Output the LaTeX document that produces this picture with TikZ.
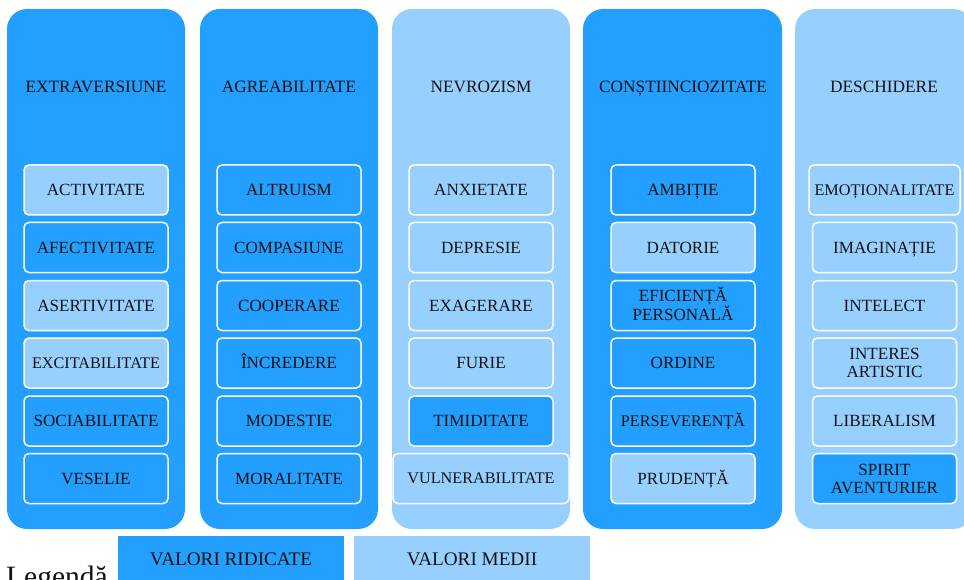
\documentclass[tikz,border=0pt]{standalone}
\usepackage{fontspec}
\setmainfont{Liberation Serif}
\definecolor{hiblue}{RGB}{35,159,255}
\definecolor{loblue}{RGB}{151,208,255}
\definecolor{txt}{RGB}{18,18,18}
\tikzset{
  colbox/.style={rounded corners=20pt, inner sep=0pt, outer sep=0pt, minimum width=178pt, minimum height=520pt, anchor=north},
  colhi/.style={colbox, fill=hiblue},
  collo/.style={colbox, fill=loblue},
  coltitle/.style={font=\fontsize{17.3}{18}\selectfont, text=txt, inner sep=0pt, text height=11.5pt, text depth=0pt},
  item/.style={draw=white, line width=1.5pt, rounded corners=5pt, minimum width=144pt, minimum height=50pt, inner sep=0pt, align=center, font=\fontsize{17.1}{18}\selectfont, text=txt, text height=11.3pt, text depth=0pt},
  twoline/.style={text height=29.3pt, text depth=0pt},
  smalltxt/.style={font=\fontsize{16.2}{18}\selectfont, text height=10.7pt},
  hi/.style={item, fill=hiblue},
  lo/.style={item, fill=loblue},
  legbox/.style={inner sep=0pt, minimum height=46pt, font=\fontsize{19.2}{20}\selectfont, text=txt, text height=12.7pt, text depth=0pt},
}
\begin{document}
\begin{tikzpicture}[x=1pt,y=-1pt]
\useasboundingbox (0,0) rectangle (964,580);
\clip (0,0) rectangle (964,580);
% columns
\node[colhi] (c1) at (96,9) {};
\node[colhi] (c2) at (289,9) {};
\node[collo] (c3) at (481,9) {};
\node[colhi, minimum width=199pt] (c4) at (682.5,9) {};
\node[collo] (c5) at (884,9) {};
% titles
\node[coltitle] (t1) at (96,87) {EXTRAVERSIUNE};
\node[coltitle] (t2) at (289,87) {AGREABILITATE};
\node[coltitle] (t3) at (481,87) {NEVROZISM};
\node[coltitle] (t4) at (683,87) {CONȘTIINCIOZITATE};
\node[coltitle] (t5) at (884,87) {DESCHIDERE};
% column 1
\node[lo] (a1) at (96,190) {ACTIVITATE};
\node[hi] (a2) at (96,247.5) {AFECTIVITATE};
\node[lo] (a3) at (96,305.5) {ASERTIVITATE};
\node[lo, smalltxt] (a4) at (96,363) {EXCITABILITATE};
\node[hi] (a5) at (96,421) {SOCIABILITATE};
\node[hi] (a6) at (96,478.5) {VESELIE};
% column 2
\node[hi] (b1) at (289,190) {ALTRUISM};
\node[hi] (b2) at (289,247.5) {COMPASIUNE};
\node[hi] (b3) at (289,305.5) {COOPERARE};
\node[hi] (b4) at (289,363) {ÎNCREDERE};
\node[hi] (b5) at (289,421) {MODESTIE};
\node[hi] (b6) at (289,478.5) {MORALITATE};
% column 3
\node[lo] (n1) at (481,190) {ANXIETATE};
\node[lo] (n2) at (481,247.5) {DEPRESIE};
\node[lo] (n3) at (481,305.5) {EXAGERARE};
\node[lo] (n4) at (481,363) {FURIE};
\node[hi] (n5) at (481,421) {TIMIDITATE};
\node[lo, smalltxt, minimum width=176pt] (n6) at (481,478.5) {VULNERABILITATE};
% column 4
\node[hi] (d1) at (683,190) {AMBIȚIE};
\node[lo] (d2) at (683,247.5) {DATORIE};
\node[hi, twoline] (d3) at (683,305.5) {EFICIENȚĂ\\PERSONALĂ};
\node[hi] (d4) at (683,363) {ORDINE};
\node[hi, smalltxt] (d5) at (683,421) {PERSEVERENȚĂ};
\node[lo] (d6) at (683,478.5) {PRUDENȚĂ};
% column 5
\node[lo, smalltxt, minimum width=151pt] (e1) at (884.5,190) {EMOȚIONALITATE};
\node[lo] (e2) at (884.5,247.5) {IMAGINAȚIE};
\node[lo] (e3) at (884.5,305.5) {INTELECT};
\node[lo, twoline] (e4) at (884.5,363) {INTERES\\ARTISTIC};
\node[lo] (e5) at (884.5,421) {LIBERALISM};
\node[hi, twoline] (e6) at (884.5,478.5) {SPIRIT\\AVENTURIER};
% legend
\node[anchor=base west, inner sep=0pt, font=\fontsize{29.5}{30}\selectfont, text=txt] (leg) at (6,586) {Legendă};
\node[legbox, fill=hiblue, minimum width=226pt] (lhi) at (231,559) {VALORI RIDICATE};
\node[legbox, fill=loblue, minimum width=236pt] (llo) at (472,559) {VALORI MEDII};
\end{tikzpicture}
\end{document}
